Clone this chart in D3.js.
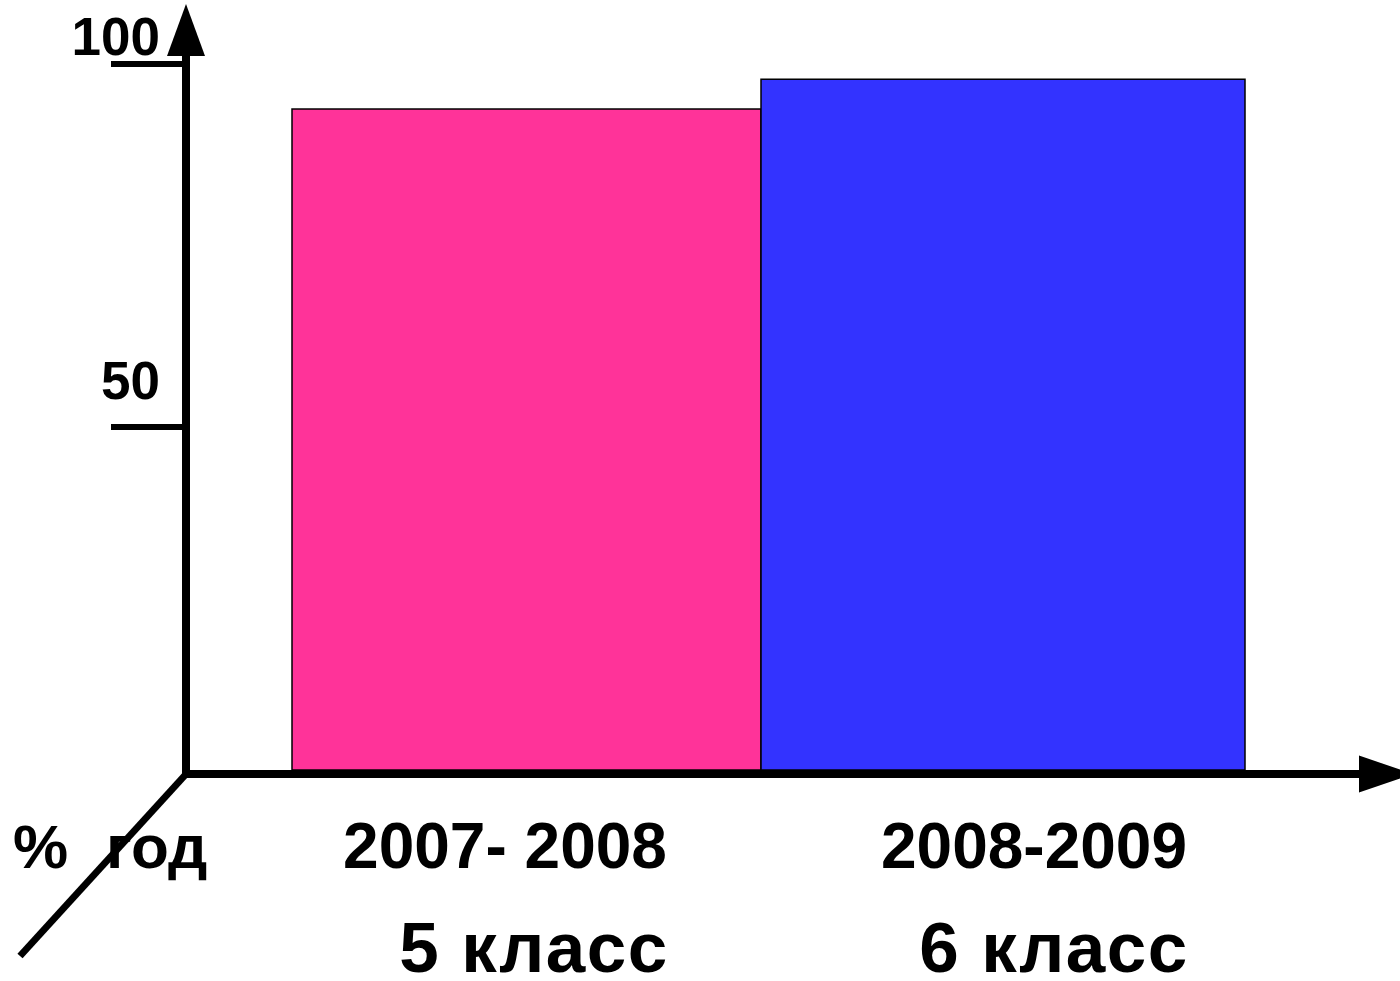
<!DOCTYPE html>
<html>
<head>
<meta charset="utf-8">
<script src="https://cdn.jsdelivr.net/npm/d3@7"></script>
<style>
  body { margin: 0; background: #fff; }
  text { font-family: "Liberation Sans", Arial, sans-serif; font-weight: bold; fill: #000; }
</style>
</head>
<body>
<div id="chart"></div>
<script>
// data
var years = ["2007- 2008", "2008-2009"];
var grades = ["5 класс", "6 класс"];
var values = [93.8, 97.9];
var colors = ["#FF3399", "#3333FF"];
var yTicks = [50, 100];

var w = 1400, h = 981;
var x0 = 186, y0 = 774; // axis origin

var svg = d3.select("#chart").append("svg")
    .attr("width", w)
    .attr("height", h);

// scales (bars of slightly different width, as in the original slide)
var xScale = d3.scaleLinear().domain([0, 1, 2]).range([292, 761, 1245]);
var yScale = d3.scaleLinear().domain([0, 50, 100]).range([770, 427, 64]);
function mid(i) { return (xScale(i) + xScale(i + 1)) / 2; }

// bars
svg.selectAll("rect.bar")
    .data(values)
    .enter()
    .append("rect")
    .attr("class", "bar")
    .attr("x", function(d, i) { return xScale(i); })
    .attr("width", function(d, i) { return xScale(i + 1) - xScale(i); })
    .attr("y", function(d) { return yScale(d); })
    .attr("height", function(d) { return yScale(0) - yScale(d); })
    .style("fill", function(d, i) { return colors[i]; })
    .style("stroke", "#000")
    .style("stroke-width", 1.5);

// y ticks
svg.selectAll("line.tick")
    .data(yTicks)
    .enter()
    .append("line")
    .attr("x1", 111).attr("x2", x0)
    .attr("y1", function(d) { return yScale(d); })
    .attr("y2", function(d) { return yScale(d); })
    .style("stroke", "#000").style("stroke-width", 6);

var tickDy = [-28, -9];
svg.selectAll("text.tick")
    .data(yTicks)
    .enter()
    .append("text")
    .attr("x", 160)
    .attr("y", function(d, i) { return yScale(d) + tickDy[i]; })
    .attr("text-anchor", "end")
    .style("font-size", "53px")
    .text(function(d) { return d; });

// axes
svg.append("line")
    .attr("x1", x0).attr("x2", x0).attr("y1", 50).attr("y2", y0 + 4)
    .style("stroke", "#000").style("stroke-width", 8);
svg.append("path")
    .attr("d", "M" + x0 + ",4 L" + (x0 + 19) + ",56 L" + (x0 - 19) + ",56 Z")
    .style("fill", "#000");

svg.append("line")
    .attr("x1", x0 - 4).attr("x2", 1365).attr("y1", y0).attr("y2", y0)
    .style("stroke", "#000").style("stroke-width", 8);
svg.append("path")
    .attr("d", "M1359," + (y0 - 18.5) + " L1413," + y0 + " L1359," + (y0 + 18.5) + " Z")
    .style("fill", "#000");

// axis labels
svg.append("text").attr("x", 13).attr("y", 868).style("font-size", "62px").text("%");
svg.append("text").attr("x", 106).attr("y", 868).style("font-size", "62px").text("год");

// diagonal (depth) axis, drawn over "год"
svg.append("line")
    .attr("x1", x0 + 1).attr("y1", y0 - 1).attr("x2", 20).attr("y2", 956)
    .style("stroke", "#000").style("stroke-width", 7);

// category labels
var dxYear = [-21.5, 31];
var dxGrade = [7.5, 51];
svg.selectAll("text.year")
    .data(years)
    .enter()
    .append("text")
    .attr("x", function(d, i) { return mid(i) + dxYear[i]; })
    .attr("y", 868)
    .attr("text-anchor", "middle")
    .style("font-size", "64px")
    .text(function(d) { return d; });

svg.selectAll("text.grade")
    .data(grades)
    .enter()
    .append("text")
    .attr("x", function(d, i) { return mid(i) + dxGrade[i]; })
    .attr("y", 972)
    .attr("text-anchor", "middle")
    .style("font-size", "71px")
    .style("letter-spacing", "1.5px")
    .text(function(d) { return d; });
</script>
</body>
</html>
